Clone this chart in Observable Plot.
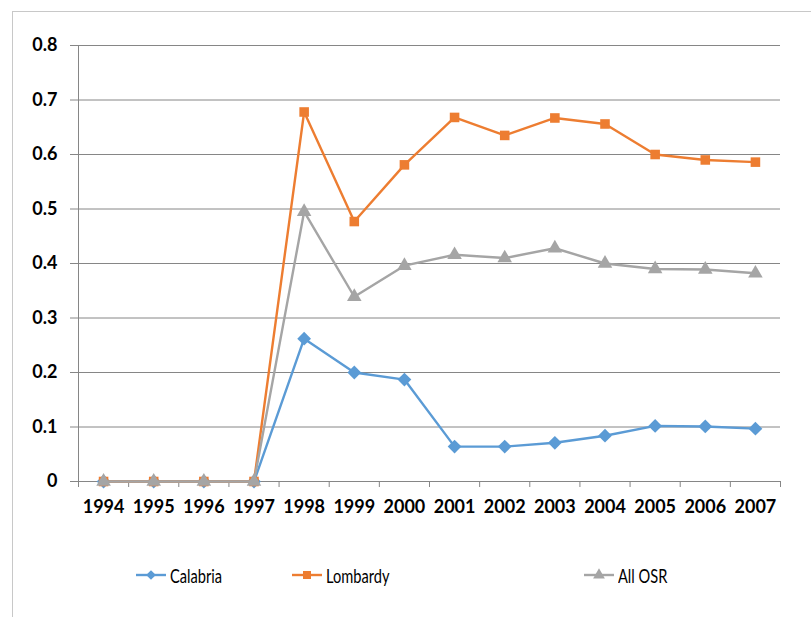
<!DOCTYPE html>
<html>
<head>
<meta charset="utf-8">
<script src="https://cdn.jsdelivr.net/npm/d3@7"></script>
<script src="https://cdn.jsdelivr.net/npm/@observablehq/plot@0.6"></script>
<style>
  html, body { margin: 0; padding: 0; background: #fff; }
  #frame { position: relative; width: 811px; height: 617px; overflow: hidden; }
  #border { position: absolute; left: 12px; top: 11px; width: 820px; height: 620px;
            border-left: 1px solid #c8c8c8; border-top: 1px solid #c8c8c8; box-sizing: border-box; }
  #chart { position: absolute; left: 0; top: 0; }
  .leg { position: absolute; top: 563px; height: 24px; display: flex; align-items: center;
         font-family: Lato, sans-serif; font-size: 19.5px; color: #000; white-space: nowrap; }
  .leg svg { margin-right: 4px; }
  .leg span { display: inline-block; transform: scaleX(0.75); transform-origin: left center; }
</style>
</head>
<body>
<div id="frame">
  <div id="border"></div>
  <div id="chart"></div>
  <div id="legend"></div>
</div>
<script>
const years = [1994, 1995, 1996, 1997, 1998, 1999, 2000, 2001, 2002, 2003, 2004, 2005, 2006, 2007];
const calabria = [0, 0, 0, 0, 0.262, 0.200, 0.187, 0.064, 0.064, 0.071, 0.084, 0.102, 0.101, 0.097];
const lombardy = [0, 0, 0, 0, 0.678, 0.477, 0.581, 0.668, 0.635, 0.667, 0.656, 0.600, 0.590, 0.586];
const allOSR   = [0, 0, 0, 0, 0.495, 0.339, 0.396, 0.416, 0.410, 0.428, 0.400, 0.390, 0.389, 0.382];
const seriesNames = ["Calabria", "Lombardy", "All OSR"];
const seriesColors = ["#5B9BD5", "#ED7D31", "#A5A5A5"];
const seriesSymbols = ["diamond2", "square", "triangle"];
const yTicks = [0, 0.1, 0.2, 0.3, 0.4, 0.5, 0.6, 0.7, 0.8];

const seriesValues = [calabria, lombardy, allOSR];
const data = seriesNames.flatMap((name, i) =>
  years.map((yr, j) => ({series: name, year: yr, value: seriesValues[i][j]})));
const boundaries = [years[0] - 0.5, ...years.map(y => y + 0.5)];

const gridColor = "#868686";
const fontFam = "Lato, 'Liberation Sans', sans-serif";
const markerR = [6.2, 5.4, 5.4];

const plot = Plot.plot({
  width: 811,
  height: 540,
  marginLeft: 78,
  marginRight: 31,
  marginTop: 45,
  marginBottom: 59,
  style: {fontFamily: fontFam, fontSize: "18px", fontWeight: "bold", color: "#000", background: "transparent"},
  x: {type: "linear", domain: [years[0] - 0.5, years[years.length - 1] + 0.5], label: null},
  y: {type: "linear", domain: [0, 0.8], label: null},
  color: {domain: seriesNames, range: seriesColors},
  symbol: {domain: seriesNames, range: seriesSymbols},
  marks: [
    Plot.ruleY(yTicks, {stroke: gridColor, strokeWidth: 1, insetLeft: -8}),
    Plot.ruleX([boundaries[0]], {stroke: gridColor, strokeWidth: 1}),
    Plot.ruleX(boundaries, {y1: () => 0, y2: () => 0, stroke: gridColor, strokeWidth: 1, insetBottom: -6}),
    Plot.axisY({ticks: yTicks, tickSize: 0, tickPadding: 21, label: null, tickFormat: d => d3.format("")(+d.toFixed(1)), fontSize: 18, fontWeight: "bold"}),
    Plot.axisX({ticks: years, tickSize: 0, tickPadding: 19, label: null, tickFormat: d => String(d), fontSize: 18, fontWeight: "bold"}),
    ...seriesNames.flatMap((name, i) => [
      Plot.line(data.filter(d => d.series === name), {x: "year", y: "value", stroke: seriesColors[i], strokeWidth: 2.4}),
      Plot.dot(data.filter(d => d.series === name), {x: "year", y: "value", fill: seriesColors[i], symbol: seriesSymbols[i], r: markerR[i], stroke: "none"})
    ])
  ]
});
document.getElementById("chart").appendChild(plot);

// legend
const legendPos = [136, 292, 584];
const symbolTypes = {diamond2: d3.symbolDiamond2, square: d3.symbolSquare, triangle: d3.symbolTriangle};
const legend = document.getElementById("legend");
seriesNames.forEach((name, i) => {
  const d = document.createElement("div");
  d.className = "leg";
  d.style.left = legendPos[i] + "px";
  const sym = d3.symbol(symbolTypes[seriesSymbols[i]], seriesSymbols[i] === "square" ? 64 : 60)();
  d.innerHTML = `<svg width="30" height="24"><line x1="0" x2="30" y1="12" y2="12" stroke="${seriesColors[i]}" stroke-width="2.4"/><path d="${sym}" transform="translate(15,12)" fill="${seriesColors[i]}"/></svg><span>${name}</span>`;
  legend.appendChild(d);
});
</script>
</body>
</html>
